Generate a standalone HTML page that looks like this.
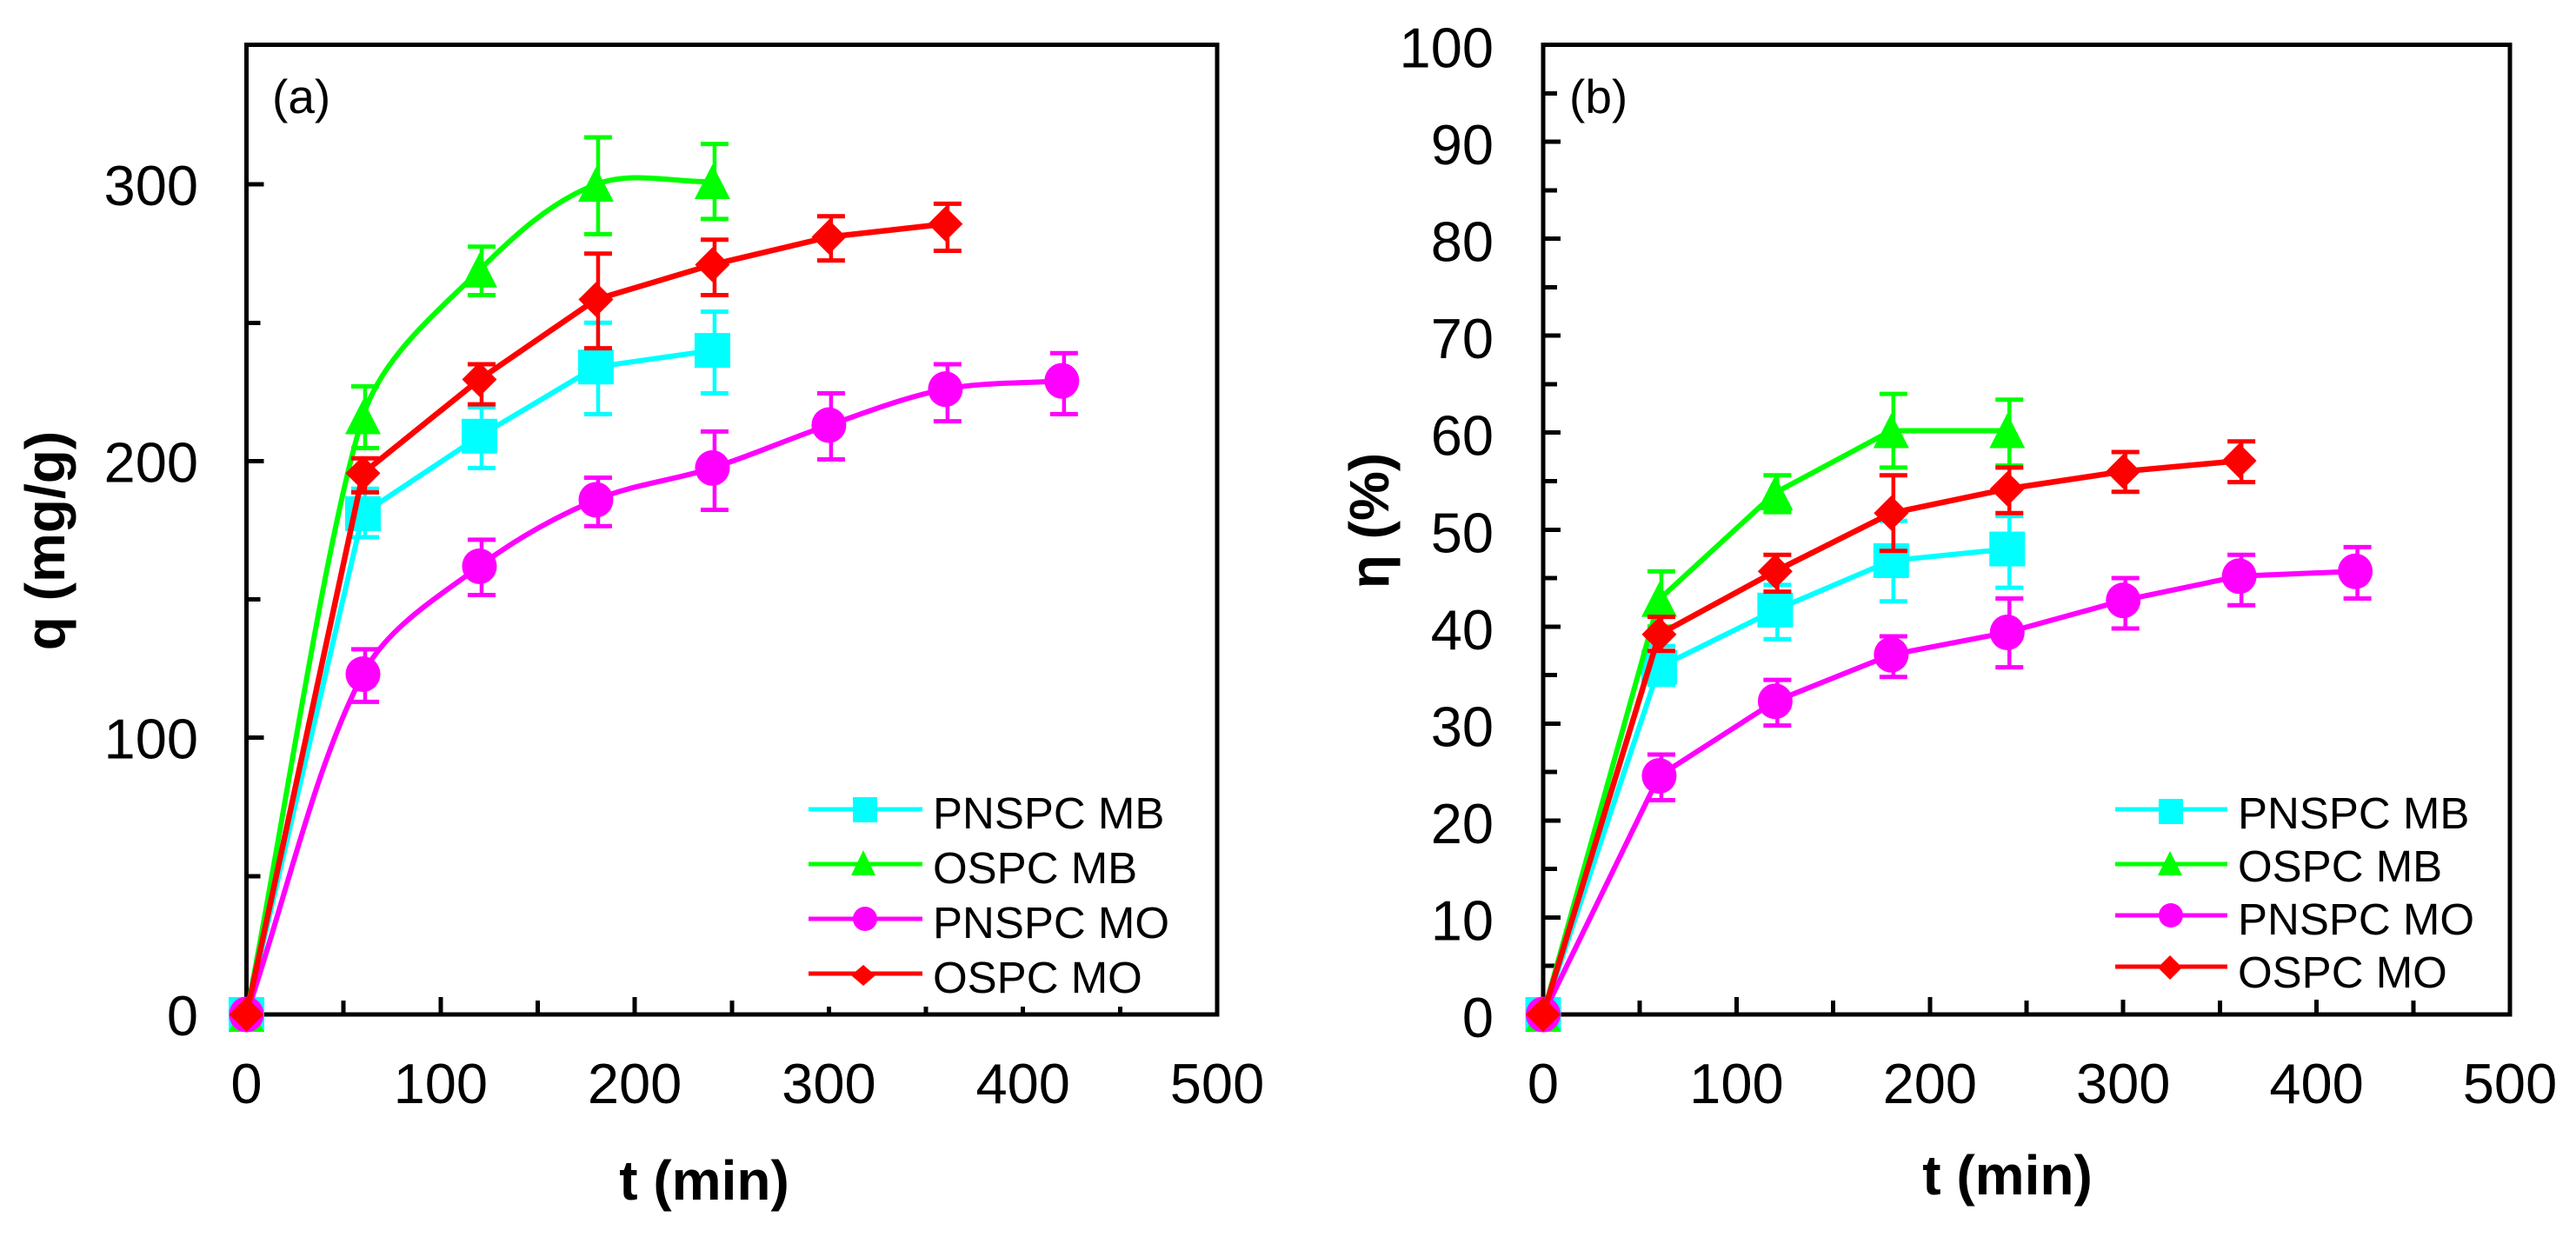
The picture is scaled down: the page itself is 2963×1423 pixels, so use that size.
<!DOCTYPE html>
<html lang="en">
<head>
<meta charset="utf-8">
<title>Adsorption kinetics charts</title>
<style>
  html, body { margin: 0; padding: 0; background: #fff; }
  svg { display: block; }
  text { font-family: "Liberation Sans", Arial, sans-serif; fill: #000; }
  .tick-label { font-size: 65px; }
  .axis-title { font-size: 64px; font-weight: bold; }
  .legend-label { font-size: 51px; }
  .panel-label { font-size: 55px; }
</style>
</head>
<body>
<svg id="figure" xmlns="http://www.w3.org/2000/svg" width="2963" height="1423" viewBox="0 0 2963 1423">
  <rect x="0" y="0" width="2963" height="1423" fill="#fff"/>

  <g id="panel-a"></g>
  <g id="panel-b"></g>

  <text class="panel-label" x="313" y="130">(a)</text>
  <text class="panel-label" x="1805" y="130">(b)</text>

  <text class="axis-title" x="810" y="1380" text-anchor="middle">t (min)</text>
  <text class="axis-title" x="2309" y="1374" text-anchor="middle">t (min)</text>
  <text class="axis-title" transform="translate(74,622) rotate(-90)" text-anchor="middle">q (mg/g)</text>
  <text class="axis-title" transform="translate(1597,599) rotate(-90)" text-anchor="middle">η (%)</text>

  <g>
    <g>
      <line x1="930" y1="931" x2="1061" y2="931" stroke="#00ffff" stroke-width="5"/>
      <rect x="981" y="917" width="28" height="29" fill="#00ffff"/>
      <text class="legend-label" x="1073" y="953">PNSPC MB</text>
    </g>
    <g>
      <line x1="930" y1="994" x2="1061" y2="994" stroke="#00ff00" stroke-width="5"/>
      <polygon points="993,978 1007,1007 979,1007" fill="#00ff00"/>
      <text class="legend-label" x="1073" y="1016">OSPC MB</text>
    </g>
    <g>
      <line x1="930" y1="1057" x2="1061" y2="1057" stroke="#ff00ff" stroke-width="5"/>
      <circle cx="995" cy="1057" r="14" fill="#ff00ff"/>
      <text class="legend-label" x="1073" y="1079">PNSPC MO</text>
    </g>
    <g>
      <line x1="930" y1="1120" x2="1061" y2="1120" stroke="#ff0000" stroke-width="5"/>
      <polygon points="993,1110 1007,1122 993,1134 979,1122" fill="#ff0000"/>
      <text class="legend-label" x="1073" y="1142">OSPC MO</text>
    </g>
  </g>

  <g>
    <g>
      <line x1="2433" y1="931" x2="2562" y2="931" stroke="#00ffff" stroke-width="5"/>
      <rect x="2483" y="919" width="28" height="29" fill="#00ffff"/>
      <text class="legend-label" x="2574" y="953">PNSPC MB</text>
    </g>
    <g>
      <line x1="2433" y1="994" x2="2562" y2="994" stroke="#00ff00" stroke-width="5"/>
      <polygon points="2496,979 2510,1007 2482,1007" fill="#00ff00"/>
      <text class="legend-label" x="2574" y="1014">OSPC MB</text>
    </g>
    <g>
      <line x1="2433" y1="1053" x2="2562" y2="1053" stroke="#ff00ff" stroke-width="5"/>
      <circle cx="2497" cy="1053" r="14" fill="#ff00ff"/>
      <text class="legend-label" x="2574" y="1075">PNSPC MO</text>
    </g>
    <g>
      <line x1="2433" y1="1112" x2="2562" y2="1112" stroke="#ff0000" stroke-width="5"/>
      <polygon points="2496,1099 2510,1113 2496,1127 2482,1113" fill="#ff0000"/>
      <text class="legend-label" x="2574" y="1136">OSPC MO</text>
    </g>
  </g>
</svg>

<script>
// Shared categories and tick labels
const timeMinutes = [0, 60, 120, 180, 240, 300, 360, 420];
const xTickLabels = [0, 100, 200, 300, 400, 500];
const xMinorTicks = [50, 150, 250, 350, 450];
const qTickLabels = [0, 100, 200, 300];
const qMinorTicks = [50, 150, 250];
const etaTickLabels = [0, 10, 20, 30, 40, 50, 60, 70, 80, 90, 100];
const etaMinorTicks = [5, 15, 25, 35, 45, 55, 65, 75, 85, 95];

// Panel (a): q in mg/g
const qPnspcMb = [0, 181, 209, 234, 240];
const qPnspcMbHigh = [0, 190, 219.5, 250, 254];
const qPnspcMbLow = [0, 172.5, 197.5, 217, 224.5];
const qOspcMb = [0, 216, 269, 300, 301];
const qOspcMbHigh = [0, 227, 277.5, 317, 314.6];
const qOspcMbLow = [0, 204.7, 260, 282, 287.5];
const qPnspcMo = [0, 123, 162, 186, 197.5, 213, 226, 229];
const qPnspcMoHigh = [0, 132, 171.6, 194, 210.7, 224.5, 235, 239];
const qPnspcMoLow = [0, 113, 151.6, 176.5, 182.4, 200.6, 214.4, 217];
const qOspcMo = [0, 195.6, 229.5, 258.4, 271, 281, 285.7];
const qOspcMoHigh = [0, 201, 235, 275, 280, 288.5, 293];
const qOspcMoLow = [0, 188.7, 220.5, 240.8, 260, 272.5, 276];

// Panel (b): removal efficiency in %
const etaPnspcMb = [0, 35.8, 41.7, 46.8, 48];
const etaPnspcMbHigh = [0, 38, 44.3, 50.9, 51.4];
const etaPnspcMbLow = [0, 34, 38.7, 42.6, 44];
const etaOspcMb = [0, 42.8, 53.8, 60.2, 60.2];
const etaOspcMbHigh = [0, 45.7, 55.6, 64, 63.4];
const etaOspcMbLow = [0, 40, 51.8, 56.4, 56.6];
const etaPnspcMo = [0, 24.6, 32.3, 37.1, 39.4, 42.7, 45.2, 45.7];
const etaPnspcMoHigh = [0, 26.8, 34.5, 39, 42.9, 45, 47.4, 48.2];
const etaPnspcMoLow = [0, 22.1, 29.8, 34.8, 35.8, 39.8, 42.2, 42.9];
const etaOspcMo = [0, 39.2, 45.7, 51.7, 54.2, 56, 57.1];
const etaOspcMoHigh = [0, 41, 47.4, 55.6, 56.4, 58, 59.1];
const etaOspcMoLow = [0, 37.5, 43.6, 47.8, 51.7, 53.9, 54.9];

const SVG_NS = 'http://www.w3.org/2000/svg';

function svgEl(tag, attrs, parent) {
  const el = document.createElementNS(SVG_NS, tag);
  Object.keys(attrs).forEach(function (k) { el.setAttribute(k, attrs[k]); });
  parent.appendChild(el);
  return el;
}

function unitVector(a, b) {
  const dx = b[0] - a[0];
  const dy = b[1] - a[1];
  const len = Math.hypot(dx, dy) || 1;
  return [dx / len, dy / len];
}

function dist(a, b) {
  return Math.hypot(b[0] - a[0], b[1] - a[1]);
}

// Spreadsheet-style smoothing: tangent direction from neighbours,
// handle length limited by the current segment and twice its neighbour.
function smoothPath(pts) {
  let d = 'M' + pts[0][0] + ' ' + pts[0][1];
  for (let i = 0; i < pts.length - 1; i++) {
    const p0 = pts[Math.max(i - 1, 0)];
    const p1 = pts[i];
    const p2 = pts[i + 1];
    const p3 = pts[Math.min(i + 2, pts.length - 1)];
    const seg = dist(p1, p2);
    const before = i > 0 ? dist(p0, p1) : seg;
    const after = i + 2 < pts.length ? dist(p2, p3) : seg;
    const h1 = Math.min(seg, 2 * before) / 3;
    const h2 = Math.min(seg, 2 * after) / 3;
    const t1 = unitVector(p0, p2);
    const t2 = unitVector(p1, p3);
    d += ' C' + (p1[0] + t1[0] * h1) + ' ' + (p1[1] + t1[1] * h1) +
         ' ' + (p2[0] - t2[0] * h2) + ' ' + (p2[1] - t2[1] * h2) +
         ' ' + p2[0] + ' ' + p2[1];
  }
  return d;
}

function linePath(pts) {
  return pts.map(function (p, i) { return (i ? 'L' : 'M') + p[0] + ' ' + p[1]; }).join(' ');
}

function drawMarker(kind, x, y, color, parent) {
  if (kind === 'square') {
    const m = svgEl('rect', { x: x - 20.5, y: y - 20, width: 41, height: 40, fill: color }, parent);
    
    
  } else if (kind === 'triangle') {
    const m = svgEl('polygon', { points: x + ',' + (y - 20) + ' ' + (x + 20.5) + ',' + (y + 20) + ' ' + (x - 20.5) + ',' + (y + 20), fill: color }, parent);
    
    
  } else if (kind === 'circle') {
    const m = svgEl('ellipse', { cx: x, cy: y, rx: 20, ry: 20.5, fill: color }, parent);
    
    
  } else {
    const m = svgEl('polygon', { points: x + ',' + (y - 20) + ' ' + (x + 20) + ',' + y + ' ' + x + ',' + (y + 20) + ' ' + (x - 20) + ',' + y, fill: color }, parent);
    
    
  }
}

function drawPanel(cfg) {
  const root = document.getElementById(cfg.id);
  const sx = function (t) { return cfg.left + (t / 500) * (cfg.right - cfg.left); };
  const sy = function (v) { return cfg.bottom - (v / cfg.yMax) * (cfg.bottom - cfg.scaleTop); };

  const frame = svgEl('rect', { x: cfg.left, y: cfg.top, width: cfg.right - cfg.left, height: cfg.bottom - cfg.top, fill: 'none', stroke: '#000', 'stroke-width': 5, 'shape-rendering': 'crispEdges' }, root);
  
  

  const ticks = svgEl('g', {}, root);
  
  

  xTickLabels.forEach(function (t) {
    const l = svgEl('line', { x1: sx(t), x2: sx(t), y1: cfg.bottom, y2: cfg.bottom - 20, stroke: '#000', 'stroke-width': 5, 'shape-rendering': 'crispEdges' }, ticks);
    
    
    const txt = svgEl('text', { x: sx(t), y: 1269, 'text-anchor': 'middle', class: 'tick-label' }, root);
    txt.textContent = String(t);
    
    
  });
  xMinorTicks.forEach(function (t) {
    const l = svgEl('line', { x1: sx(t), x2: sx(t), y1: cfg.bottom, y2: cfg.bottom - 16, stroke: '#000', 'stroke-width': 5, 'shape-rendering': 'crispEdges' }, ticks);
    
    
  });
  cfg.yLabels.forEach(function (v) {
    const l = svgEl('line', { x1: cfg.left, x2: cfg.left + 20, y1: sy(v), y2: sy(v), stroke: '#000', 'stroke-width': 5, 'shape-rendering': 'crispEdges' }, ticks);
    
    
    const txt = svgEl('text', { x: cfg.yLabelX, y: sy(v) + cfg.yLabelDy, 'text-anchor': 'end', class: 'tick-label' }, root);
    txt.textContent = String(v);
    
    
  });
  cfg.yMinor.forEach(function (v) {
    const l = svgEl('line', { x1: cfg.left, x2: cfg.left + 16, y1: sy(v), y2: sy(v), stroke: '#000', 'stroke-width': 5, 'shape-rendering': 'crispEdges' }, ticks);
    
    
  });

  const legendBg = svgEl('rect', { x: cfg.legendLeft, y: 900, width: cfg.right - 6 - cfg.legendLeft, height: cfg.legendBottom - 900, fill: '#fff' }, root);
  
  

  cfg.series.forEach(function (s) {
    const g = svgEl('g', {}, root);
    
    

    const pts = s.values.map(function (v, i) { return [sx(timeMinutes[i]), sy(v)]; });
    const path = svgEl('path', { d: s.smooth ? smoothPath(pts) : linePath(pts), fill: 'none', stroke: s.color, 'stroke-width': s.width, 'stroke-linejoin': 'round' }, g);
    
    

    s.values.forEach(function (v, i) {
      if (timeMinutes[i] === 0) return;
      const x = sx(timeMinutes[i]) + 2.5;
      const hi = sy(s.high[i]);
      const lo = sy(s.low[i]);
      const stem = svgEl('line', { x1: x, x2: x, y1: hi, y2: lo, stroke: s.color, 'stroke-width': 4.5 }, g);
      
      
      const capTop = svgEl('line', { x1: x - 16, x2: x + 16, y1: hi, y2: hi, stroke: s.color, 'stroke-width': 5 }, g);
      
      
      const capBottom = svgEl('line', { x1: x - 16, x2: x + 16, y1: lo, y2: lo, stroke: s.color, 'stroke-width': 5 }, g);
      
      
    });
    s.values.forEach(function (v, i) {
      drawMarker(s.marker, sx(timeMinutes[i]), sy(v), s.color, g);
    });
  });
}

drawPanel({
  id: 'panel-a', left: 283.5, right: 1400, top: 51.5, scaleTop: 53, bottom: 1167, yMax: 350,
  yLabels: qTickLabels, yMinor: qMinorTicks, yLabelX: 228, yLabelDy: 24,
  legendLeft: 925, legendBottom: 1158,
  series: [
    { name: 'pnspc-mb', values: qPnspcMb, high: qPnspcMbHigh, low: qPnspcMbLow, color: '#00ffff', marker: 'square', smooth: false, width: 6 },
    { name: 'ospc-mb', values: qOspcMb, high: qOspcMbHigh, low: qOspcMbLow, color: '#00ff00', marker: 'triangle', smooth: true, width: 6 },
    { name: 'pnspc-mo', values: qPnspcMo, high: qPnspcMoHigh, low: qPnspcMoLow, color: '#ff00ff', marker: 'circle', smooth: true, width: 6 },
    { name: 'ospc-mo', values: qOspcMo, high: qOspcMoHigh, low: qOspcMoLow, color: '#ff0000', marker: 'diamond', smooth: false, width: 6.5 }
  ]
});

drawPanel({
  id: 'panel-b', left: 1775, right: 2887, top: 51.5, scaleTop: 51.5, bottom: 1167, yMax: 100,
  yLabels: etaTickLabels, yMinor: etaMinorTicks, yLabelX: 1718, yLabelDy: 26,
  legendLeft: 2420, legendBottom: 1150,
  series: [
    { name: 'pnspc-mb', values: etaPnspcMb, high: etaPnspcMbHigh, low: etaPnspcMbLow, color: '#00ffff', marker: 'square', smooth: false, width: 6 },
    { name: 'ospc-mb', values: etaOspcMb, high: etaOspcMbHigh, low: etaOspcMbLow, color: '#00ff00', marker: 'triangle', smooth: false, width: 6 },
    { name: 'pnspc-mo', values: etaPnspcMo, high: etaPnspcMoHigh, low: etaPnspcMoLow, color: '#ff00ff', marker: 'circle', smooth: false, width: 6 },
    { name: 'ospc-mo', values: etaOspcMo, high: etaOspcMoHigh, low: etaOspcMoLow, color: '#ff0000', marker: 'diamond', smooth: false, width: 6.5 }
  ]
});
</script>
</body>
</html>
